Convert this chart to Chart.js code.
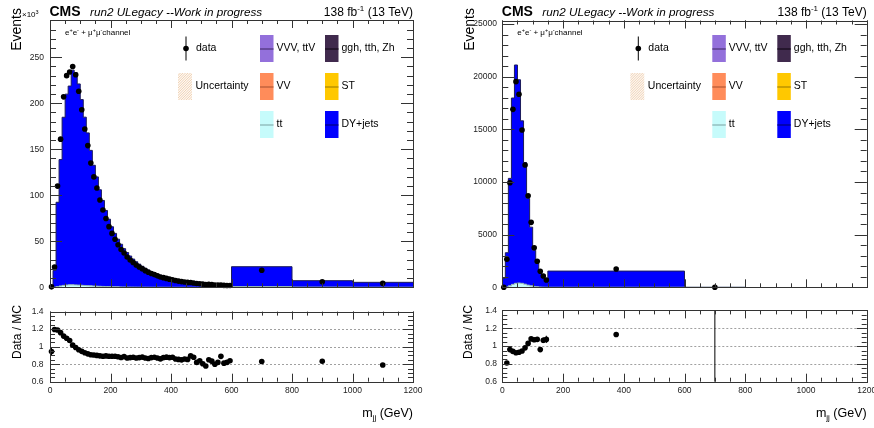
<!DOCTYPE html>
<html>
<head>
<meta charset="utf-8">
<title>m_jj distributions, e+e- + mu+mu- channel</title>
<script src="https://cdn.jsdelivr.net/npm/chart.js@4.4.1/dist/chart.umd.min.js"></script>
<style>
  html, body { margin: 0; padding: 0; background: #fff; }
  body { width: 874px; height: 428px; overflow: hidden; position: relative; }
  canvas { position: absolute; }
</style>
</head>
<body>
<canvas id="leftMain" width="440" height="300" style="left:0;top:0"></canvas>
<canvas id="leftRatio" width="440" height="128" style="left:0;top:300px"></canvas>
<canvas id="rightMain" width="450" height="300" style="left:440px;top:0"></canvas>
<canvas id="rightRatio" width="450" height="128" style="left:440px;top:300px"></canvas>
<script>
const FONT = "'Liberation Sans', Arial, Helvetica, sans-serif";
Chart.defaults.font.family = FONT;

// ---- m_jj binning (GeV) ----
const leftEdges = [0, 10, 20, 30, 40, 50, 60, 70, 80, 90, 100, 110, 120, 130, 140, 150, 160, 170, 180, 190,
  200, 210, 220, 230, 240, 250, 260, 270, 280, 290, 300, 310, 320, 330, 340, 350, 360, 370, 380, 390,
  400, 410, 420, 430, 440, 450, 460, 470, 480, 490, 500, 510, 520, 530, 540, 550, 560, 570, 580, 590,
  600, 800, 1000, 1200];
const rightEdges = [0, 10, 20, 30, 40, 50, 60, 70, 80, 90, 100, 110, 120, 130, 140, 150, 600, 800];

// ---- left panel yields (10^3 events per bin) ----
const leftData = [0.5, 22, 110, 161, 207, 230, 234, 240, 231, 213, 193, 172, 154, 135, 120,
  108.0, 94.9, 84.0, 74.7, 65.9, 58.6, 52.2, 46.3, 41.0, 37.2, 32.9, 29.75, 27.0, 24.2, 22.05,
  20.15, 18.1, 16.35, 15.05, 13.8, 12.45, 11.27, 10.5, 9.68, 8.84, 8.18, 7.35, 6.75, 6.2, 5.8,
  5.34, 5.19, 4.75, 4.1, 3.9, 3.46, 3.12, 3.15, 2.88, 2.56, 2.46, 2.49, 2.11, 2.01, 1.93,
  18.6, 6.0, 4.27];
const leftDY = [0.53, 18.2, 91.6, 137.3, 182.7, 207.4, 216.0, 233.3, 230.7, 218.6, 201.8, 182.9, 166.0, 147.2, 131.2,
  118.75, 104.9, 93.45, 82.65, 73.25, 65.15, 58.03, 51.8, 46.36, 41.62, 37.47, 33.71, 30.45, 27.58, 25.01,
  22.75, 20.66, 18.77, 17.08, 15.59, 14.2, 13.01, 11.92, 10.93, 10.04, 9.25, 8.5, 7.86, 7.26, 6.72,
  6.22, 5.77, 5.38, 4.98, 4.63, 4.28, 3.99, 3.69, 3.44, 3.19, 2.99, 2.79, 2.59, 2.44, 2.29,
  21.6, 6.9, 5.25];
const leftTT = [0, 0.2, 0.8, 1.5, 2.1, 2.5, 2.7, 2.7, 2.6, 2.4, 2.2, 2.0, 1.8, 1.6, 1.4,
  1.25, 1.1, 0.95, 0.85, 0.75, 0.65, 0.57, 0.5, 0.44, 0.38, 0.33, 0.29, 0.25, 0.22, 0.19,
  0.15, 0.14, 0.13, 0.12, 0.11, 0.1, 0.09, 0.08, 0.07, 0.06, 0.05, 0.05, 0.04, 0.04, 0.03,
  0.03, 0.03, 0.02, 0.02, 0.02, 0.02, 0.01, 0.01, 0.01, 0.01, 0.01, 0.01, 0.01, 0.01, 0.01,
  0.8, 0.3, 0.15];

// ---- right panel yields (events per bin) ----
const rightData = [0, 2660, 9930, 16900, 19530, 18330, 14940, 11610, 8700, 6170, 3760, 2470, 1520, 1075, 690, 1740, 0];
const rightDY = [845, 3244, 10204, 17699, 20734, 19300, 15430, 11547, 8237, 5573, 3429, 2248, 1553, 991, 632, 1532, 0];
const rightTT = [5, 40, 140, 280, 380, 410, 380, 300, 210, 140, 85, 50, 30, 18, 10, 8, 0];

// ---- axis tick labels ----
const massTicks = [0, 200, 400, 600, 800, 1000, 1200];
const leftEventTicks = [0, 50, 100, 150, 200, 250];
const rightEventTicks = [0, 5000, 10000, 15000, 20000, 25000];
const ratioTicks = [0.6, 0.8, 1, 1.2, 1.4];
const ratioGuides = [0.8, 1, 1.2];

// ---- process legend ----
const legendEntries = [
  { label: 'VVV, ttV',     fill: '#9370db', line: '#4a3275', col: 1, row: 0 },
  { label: 'VV',           fill: '#ff8c5a', line: '#b45a36', col: 1, row: 1 },
  { label: 'tt',           fill: '#c6fbfb', line: '#86b0b0', col: 1, row: 2 },
  { label: 'ggh, tth, Zh', fill: '#402a4d', line: '#140a18', col: 2, row: 0 },
  { label: 'ST',           fill: '#ffc800', line: '#a88500', col: 2, row: 1 },
  { label: 'DY+jets',      fill: '#0000ff', line: '#000080', col: 2, row: 2 },
];
const TT_FILL = '#c6fbfb', DY_FILL = '#0000ff';
const MARKER_R = 2.8;

// ---------------------------------------------------------------------------
const centres = e => e.slice(0, -1).map((v, i) => (v + e[i + 1]) / 2);
function stepPoints(edges, vals) {
  const pts = vals.map((v, i) => ({ x: edges[i], y: v }));
  pts.push({ x: edges[edges.length - 1], y: vals[vals.length - 1] });
  return pts;
}
const fontOf = p => `${p.style || ''} ${p.size}px ${FONT}`;
function runs(ctx, parts, x, y, align) {
  ctx.textAlign = 'left';
  let w = 0;
  parts.forEach(p => { ctx.font = fontOf(p); w += ctx.measureText(p.t).width; });
  let cx = align === 'right' ? x - w : x;
  parts.forEach(p => {
    ctx.font = fontOf(p);
    ctx.fillText(p.t, cx, y - (p.rise || 0));
    cx += ctx.measureText(p.t).width;
  });
}
function hatch(ctx, x, y, w, h) {
  ctx.save();
  ctx.beginPath(); ctx.rect(x, y, w, h); ctx.clip();
  ctx.fillStyle = '#fdf7f1'; ctx.fillRect(x, y, w, h);
  ctx.strokeStyle = '#eccaa8'; ctx.lineWidth = 0.8;
  ctx.beginPath();
  for (let k = -h; k < w + h; k += 2.5) { ctx.moveTo(x + k, y + h); ctx.lineTo(x + k + h, y); }
  ctx.stroke();
  ctx.restore();
}
function drawLegend(ctx, L) {
  const rows = [48.5, 86.5, 124.5];
  ctx.textBaseline = 'middle';
  ctx.textAlign = 'left';
  ctx.font = `10.5px ${FONT}`;
  const mx = L + 136;
  ctx.strokeStyle = '#000'; ctx.lineWidth = 1;
  ctx.beginPath(); ctx.moveTo(mx, 36.5); ctx.lineTo(mx, 60.5); ctx.stroke();
  ctx.fillStyle = '#000';
  ctx.beginPath(); ctx.arc(mx, rows[0], MARKER_R, 0, Math.PI * 2); ctx.fill();
  ctx.fillText('data', L + 146, rows[0]);
  hatch(ctx, L + 128, 73, 14, 27);
  ctx.fillStyle = '#000';
  ctx.fillText('Uncertainty', L + 145.5, rows[1]);
  const colX = { 1: L + 210, 2: L + 275 };
  legendEntries.forEach(e => {
    const x = colX[e.col], y = rows[e.row];
    ctx.fillStyle = e.fill; ctx.fillRect(x, y - 13.5, 13.5, 27);
    ctx.strokeStyle = e.line; ctx.lineWidth = 1.2;
    ctx.beginPath(); ctx.moveTo(x, y + 0.5); ctx.lineTo(x + 13.5, y + 0.5); ctx.stroke();
    ctx.fillStyle = '#000';
    ctx.font = `10.5px ${FONT}`;
    ctx.fillText(e.label, x + 16.5, y);
  });
}

// ROOT-style frame with inward ticks on all four sides, optional dashed guides
function rootFrame(o) {
  return {
    id: 'rootFrame',
    beforeDatasetsDraw(chart) {
      if (!o.guides) return;
      const { ctx, chartArea: a, scales: { y } } = chart;
      ctx.save();
      ctx.strokeStyle = '#a0a0a0'; ctx.lineWidth = 1; ctx.setLineDash([2, 2]);
      o.guides.forEach(v => {
        const py = Math.round(y.getPixelForValue(v)) + 0.5;
        ctx.beginPath(); ctx.moveTo(a.left, py); ctx.lineTo(a.right, py); ctx.stroke();
      });
      ctx.restore();
    },
    afterDraw(chart) {
      const { ctx, chartArea: a, scales: { x, y } } = chart;
      ctx.save();
      ctx.strokeStyle = '#333'; ctx.lineWidth = 1;
      ctx.beginPath();
      const xt = (step, len) => {
        for (let k = Math.ceil(x.min / step - 1e-9); k * step <= x.max + 1e-9; k++) {
          const px = Math.round(x.getPixelForValue(k * step)) + 0.5;
          ctx.moveTo(px, a.bottom); ctx.lineTo(px, a.bottom - len);
          ctx.moveTo(px, a.top); ctx.lineTo(px, a.top + len);
        }
      };
      const yt = (step, len) => {
        for (let k = Math.ceil(y.min / step - 1e-9); k * step <= y.max + 1e-9; k++) {
          const py = Math.round(y.getPixelForValue(k * step)) + 0.5;
          ctx.moveTo(a.left, py); ctx.lineTo(a.left + len, py);
          ctx.moveTo(a.right, py); ctx.lineTo(a.right - len, py);
        }
      };
      xt(o.xMinor, o.xMinLen); xt(o.xMajor, o.xMajLen);
      yt(o.yMinor, o.yMinLen); yt(o.yMajor, o.yMajLen);
      ctx.stroke();
      const l = Math.round(a.left) + 0.5, t = Math.round(a.top) + 0.5;
      ctx.strokeRect(l, t, Math.round(a.right) - Math.round(a.left), Math.round(a.bottom) - Math.round(a.top));
      ctx.restore();
    }
  };
}

// vertical error bars, drawn just beneath the markers of their dataset
const errorBars = {
  id: 'errorBars',
  beforeDatasetDraw(chart, args) {
    const ds = chart.data.datasets[args.index];
    if (!ds.errs) return;
    const { ctx, chartArea: a, scales: { x, y } } = chart;
    ctx.save(); ctx.strokeStyle = '#000'; ctx.lineWidth = 1;
    ctx.beginPath();
    ds.data.forEach((p, i) => {
      const e = ds.errs[i];
      if (!(e > 0)) return;
      const px = x.getPixelForValue(p.x);
      if (px < a.left || px > a.right) return;
      const top = isFinite(e) ? y.getPixelForValue(p.y + e) : a.top;
      const bot = isFinite(e) ? y.getPixelForValue(p.y - e) : a.bottom;
      const t = Math.max(a.top, top), b = Math.min(a.bottom, bot);
      if (b <= t) return;
      ctx.moveTo(px, t); ctx.lineTo(px, b);
    });
    ctx.stroke(); ctx.restore();
  }
};

function mainDecor(o) {
  return {
    id: 'mainDecor',
    afterDraw(chart) {
      const ctx = chart.ctx, a = chart.chartArea;
      const L = a.left, R = a.right;
      ctx.save();
      ctx.fillStyle = '#000'; ctx.textBaseline = 'alphabetic'; ctx.textAlign = 'left';
      ctx.font = `bold 14px ${FONT}`;
      ctx.fillText('CMS', L - 0.5, 15.5);
      ctx.font = `italic 11.7px ${FONT}`;
      ctx.fillText('run2 ULegacy --Work in progress', L + 40, 15.5);
      runs(ctx, [{ t: '138 fb', size: 12 }, { t: '-1', size: 8, rise: 5 }, { t: ' (13 TeV)', size: 12 }], R, 15.5, 'right');
      runs(ctx, [
        { t: 'e', size: 8 }, { t: '+', size: 5.5, rise: 3 }, { t: 'e', size: 8 }, { t: '-', size: 5.5, rise: 3 },
        { t: ' + ', size: 8 },
        { t: 'μ', size: 8 }, { t: '+', size: 5.5, rise: 3 }, { t: 'μ', size: 8 }, { t: '-', size: 5.5, rise: 3 },
        { t: 'channel', size: 8 }], L + 15, 35, 'left');
      ctx.save();
      ctx.translate(o.titleX, 8); ctx.rotate(-Math.PI / 2);
      ctx.textAlign = 'right'; ctx.textBaseline = 'middle'; ctx.font = `14px ${FONT}`;
      ctx.fillText('Events', 0, 0);
      ctx.restore();
      if (o.exponent) runs(ctx, [{ t: '×10', size: 8 }, { t: '3', size: 5.5, rise: 3.5 }], 22, 17, 'left');
      drawLegend(ctx, L);
      ctx.restore();
    }
  };
}

function ratioDecor(o) {
  return {
    id: 'ratioDecor',
    afterDraw(chart) {
      const ctx = chart.ctx, a = chart.chartArea;
      ctx.save();
      ctx.fillStyle = '#000';
      ctx.save();
      ctx.translate(o.titleX, 5); ctx.rotate(-Math.PI / 2);
      ctx.textAlign = 'right'; ctx.textBaseline = 'middle'; ctx.font = `12px ${FONT}`;
      ctx.fillText('Data / MC', 0, 0);
      ctx.restore();
      ctx.textBaseline = 'alphabetic';
      runs(ctx, [{ t: 'm', size: 12.5 }, { t: 'jj', size: 8, rise: -3 }, { t: ' (GeV)', size: 12.5 }], a.right, 117, 'right');
      ctx.restore();
    }
  };
}

const tickFont = { family: FONT, size: 8.5 };
const common = {
  responsive: false, animation: false, devicePixelRatio: 1, events: [],
};

function mainChart(id, cfg) {
  const c = centres(cfg.edges);
  return new Chart(document.getElementById(id), {
    type: 'line',
    data: {
      datasets: [
        {
          type: 'scatter', label: 'data', stack: 'obs',
          data: cfg.data.map((v, i) => ({ x: c[i], y: v })),
          errs: cfg.data.map(v => Math.sqrt(v * cfg.unit) / cfg.unit),
          backgroundColor: '#000', borderColor: '#000', borderWidth: 0,
          pointRadius: MARKER_R, showLine: false, clip: 6
        },
        {
          label: 'tt', stack: 'mc', data: stepPoints(cfg.edges, cfg.tt), stepped: true,
          fill: 'origin', backgroundColor: TT_FILL, borderColor: '#8fb0b0', borderWidth: 1, pointRadius: 0
        },
        {
          label: 'DY+jets', stack: 'mc', data: stepPoints(cfg.edges, cfg.dy), stepped: true,
          fill: '-1', backgroundColor: DY_FILL, borderColor: '#1c1c5c', borderWidth: 1, pointRadius: 0
        }
      ]
    },
    options: Object.assign({}, common, {
      layout: { padding: { top: cfg.top, right: cfg.padR, bottom: cfg.padB, left: 0 } },
      plugins: { legend: { display: false }, tooltip: { enabled: false } },
      scales: {
        x: { type: 'linear', min: 0, max: 1200, display: false },
        y: {
          type: 'linear', min: 0, max: cfg.yMax, stacked: true,
          afterFit: s => { s.width = cfg.axisW; },
          afterBuildTicks: s => { s.ticks = cfg.yTicks.map(v => ({ value: v })); },
          ticks: { padding: cfg.labPad, color: '#222', font: tickFont, autoSkip: false, callback: v => String(v) },
          grid: { display: false, drawTicks: false }, border: { display: false }
        }
      }
    }),
    plugins: [errorBars, rootFrame({
      xMajor: 200, xMinor: 50, xMajLen: 8, xMinLen: 4,
      yMajor: cfg.yMajor, yMinor: cfg.yMinor, yMajLen: 12, yMinLen: 6
    }), mainDecor({ titleX: cfg.titleX, exponent: cfg.exponent })]
  });
}

function ratioChart(id, cfg) {
  const c = centres(cfg.edges);
  const pts = [], errs = [], radii = [];
  cfg.data.forEach((d, i) => {
    const mc = cfg.dy[i] + cfg.tt[i];
    if (mc > 0) {
      pts.push({ x: c[i], y: d / mc });
      errs.push(Math.sqrt(d * cfg.unit) / cfg.unit / mc);
      radii.push(MARKER_R);
    } else {
      // empty prediction: the ratio is undefined, its uncertainty spans the panel
      pts.push({ x: c[i], y: 1 });
      errs.push(Infinity);
      radii.push(0);
    }
  });
  return new Chart(document.getElementById(id), {
    type: 'scatter',
    data: {
      datasets: [{
        label: 'Data / MC', data: pts, errs,
        backgroundColor: '#000', borderColor: '#000', borderWidth: 0,
        pointRadius: radii, showLine: false, clip: 3
      }]
    },
    options: Object.assign({}, common, {
      layout: { padding: { top: 6.7, right: cfg.padR, bottom: 0, left: 0 } },
      plugins: { legend: { display: false }, tooltip: { enabled: false } },
      scales: {
        x: {
          type: 'linear', min: 0, max: 1200,
          afterFit: s => { s.height = 46.3; },
          afterBuildTicks: s => { s.ticks = massTicks.map(v => ({ value: v })); },
          ticks: { padding: 4, color: '#222', font: tickFont, autoSkip: false, maxRotation: 0, minRotation: 0, callback: v => String(v) },
          grid: { display: false, drawTicks: false }, border: { display: false }
        },
        y: {
          type: 'linear', min: 0.6, max: 1.4,
          afterFit: s => { s.width = cfg.axisW; },
          afterBuildTicks: s => { s.ticks = ratioTicks.map(v => ({ value: v })); },
          ticks: { padding: cfg.labPad, color: '#222', font: tickFont, autoSkip: false, callback: v => String(v) },
          grid: { display: false, drawTicks: false }, border: { display: false }
        }
      }
    }),
    plugins: [errorBars, rootFrame({
      guides: ratioGuides,
      xMajor: 200, xMinor: 50, xMajLen: 8, xMinLen: 4,
      yMajor: 0.2, yMinor: 0.05, yMajLen: 10, yMinLen: 5
    }), ratioDecor({ titleX: cfg.titleX })]
  });
}

mainChart('leftMain', {
  edges: leftEdges, data: leftData, dy: leftDY, tt: leftTT, unit: 1000,
  yMax: 290.5, yTicks: leftEventTicks, yMajor: 50, yMinor: 10,
  top: 20, padR: 27, padB: 12.7, axisW: 50, labPad: 6, titleX: 17, exponent: true
});
ratioChart('leftRatio', {
  edges: leftEdges, data: leftData, dy: leftDY, tt: leftTT, unit: 1000,
  padR: 27, axisW: 50, labPad: 6.5, titleX: 17.5
});
mainChart('rightMain', {
  edges: rightEdges, data: rightData, dy: rightDY, tt: rightTT, unit: 1,
  yMax: 25340, yTicks: rightEventTicks, yMajor: 5000, yMinor: 1000,
  top: 20.5, padR: 23.3, padB: 12.7, axisW: 62.3, labPad: 5.3, titleX: 30, exponent: false
});
ratioChart('rightRatio', {
  edges: rightEdges, data: rightData, dy: rightDY, tt: rightTT, unit: 1,
  padR: 23.3, axisW: 62.3, labPad: 5.3, titleX: 29
});
</script>
</body>
</html>
